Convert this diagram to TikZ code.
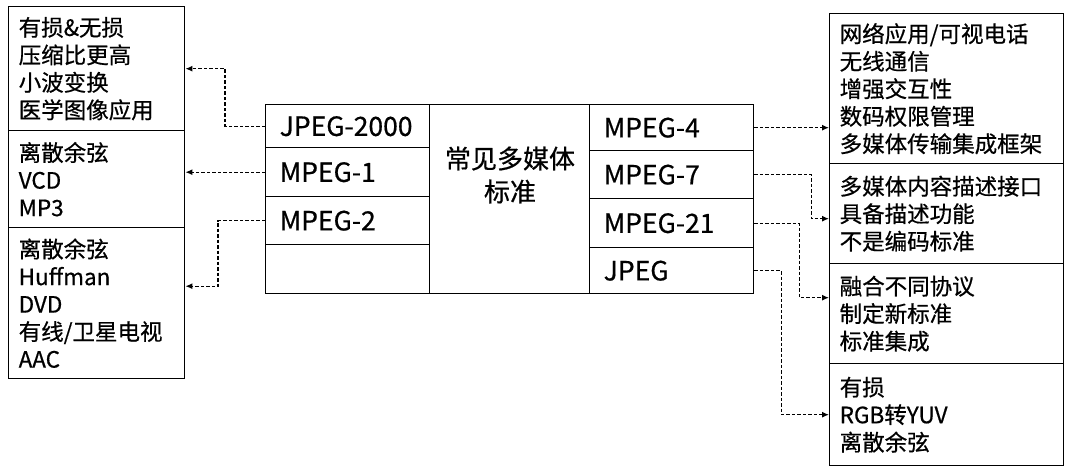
\documentclass[tikz,border=0pt]{standalone}
\usepackage{fontspec}
\setmainfont{Noto Sans CJK SC}[FakeBold=0.6]
\usetikzlibrary{arrows.meta}
\begin{document}
\begin{tikzpicture}[x=1pt,y=-1pt,
  box/.style={draw,line width=1.4pt,anchor=north west,inner xsep=10pt,inner ysep=0pt,align=left,
    font=\fontsize{22.5}{27.5}\selectfont},
  cell/.style={draw,line width=1.4pt,anchor=north west,inner xsep=14pt,inner ysep=0pt,align=left,
    text width=136pt,minimum width=164pt,font=\fontsize{26.5}{27}\selectfont},
  conn/.style={line width=1.3pt,dash pattern=on 3.5pt off 2pt,-{Latex[length=7pt,width=6pt]}}]
\useasboundingbox[fill=white] (0,0) rectangle (1072,471);

% left boxes
\node[box,text width=156pt,minimum height=124pt] (L1) at (8,6) {有损\&无损\\压缩比更高\\小波变换\\医学图像应用};
\node[box,text width=156pt,minimum height=97pt] (L2) at (8,130) {离散余弦\\VCD\\MP3};
\node[box,text width=156pt,minimum height=151pt] (L3) at (8,227) {离散余弦\\Huffman\\DVD\\有线/卫星电视\\AAC};

% right boxes
\node[box,text width=214pt,minimum height=150pt] (R1) at (829,13) {网络应用/可视电话\\无线通信\\增强交互性\\数码权限管理\\多媒体传输集成框架};
\node[box,text width=214pt,minimum height=100pt] (R2) at (829,163) {多媒体内容描述接口\\具备描述功能\\不是编码标准};
\node[box,text width=214pt,minimum height=100pt] (R3) at (829,263) {融合不同协议\\制定新标准\\标准集成};
\node[box,text width=214pt,minimum height=102pt] (R4) at (829,363) {有损\\RGB转YUV\\离散余弦};

% center block
\node[draw,line width=1.4pt,anchor=north west,minimum width=488pt,minimum height=189pt,inner sep=0pt] (std) at (265,104) {};
\node[cell,minimum height=43pt] (j2k) at (265,104) {JPEG-2000};
\node[cell,minimum height=49pt] (m1) at (265,147) {MPEG-1};
\node[cell,minimum height=48pt] (m2) at (265,196) {MPEG-2};
\node[cell,minimum height=49pt] (e1) at (265,244) {};
\node[cell,minimum height=46pt] (m4) at (589,104) {MPEG-4};
\node[cell,minimum height=48pt] (m7) at (589,150) {MPEG-7};
\node[cell,minimum height=49pt] (m21) at (589,198) {MPEG-21};
\node[cell,minimum height=46pt] (jpeg) at (589,247) {JPEG};
\node[align=center,font=\fontsize{26}{33}\selectfont] (title) at (510,175) {常见多媒体\\标准};

% connectors
\draw[conn] (j2k.west) -- ++(-40,0) |- (L1.east);
\draw[conn] (m1.west) -- (m1.west -| L2.east);
\draw[conn] (m2.west) -- ++(-47,0) |- ([yshift=17pt]L3.east);
\draw[conn] (m4.east) -- (m4.east -| R1.west);
\draw[conn] (m7.east) -- ++(57,0) |- ([yshift=-5pt]R2.west);
\draw[conn] (m21.east) -- ++(45,0) |- ([yshift=16pt]R3.west);
\draw[conn] (jpeg.east) -- ++(27,0) |- (R4.west);
\end{tikzpicture}
\end{document}
